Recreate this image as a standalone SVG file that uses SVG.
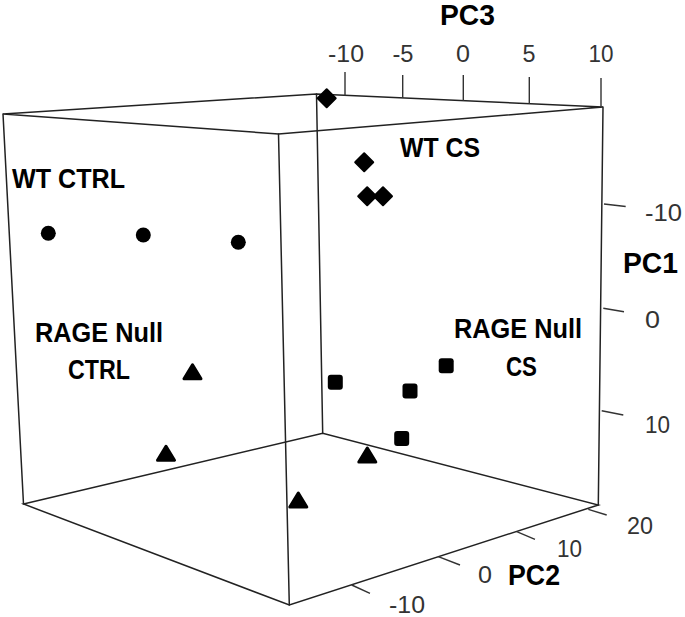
<svg xmlns="http://www.w3.org/2000/svg" xmlns:xlink="http://www.w3.org/1999/xlink" width="685" height="617" viewBox="0 0 685 617">
<style>
.edge{stroke:#222;stroke-width:1.5;fill:none;stroke-linecap:round}
.tick{stroke:#333;stroke-width:1.4;fill:none}
.lbl{font-family:"Liberation Sans",Arial,sans-serif;font-weight:bold;font-size:27px;fill:#000}
.axis{font-family:"Liberation Sans",Arial,sans-serif;font-weight:bold;font-size:29px;fill:#000}
.num{font-family:"Liberation Sans",Arial,sans-serif;font-size:24px;fill:#333}
.pt{fill:#000;stroke:#000;stroke-linejoin:round}
</style>
<defs>
<circle id="circ" r="7.5" fill="#000"/>
<polygon id="dia" class="pt" stroke-width="2" points="0,-9 9,0 0,9 -9,0"/>
<rect id="sq" x="-7.5" y="-7.5" width="15" height="15" rx="3" fill="#000"/>
<polygon id="tri" class="pt" stroke-width="3" points="0,-7 8.5,7 -8.5,7"/>
</defs>
<rect width="685" height="617" fill="#fff"/>
<g id="connectors">
<path class="edge" d="M3,114 L316.5,94 L603,107 L278.5,134 Z"/>
<path class="edge" d="M23.5,504 L322.7,433.3 L598.3,505 L289.3,605 Z"/>
<path class="edge" d="M3,114 L23.5,504 M316.5,94 L322.7,433.3 M603,107 L598.3,505 M278.5,134 L289.3,605"/>
<path class="tick" d="M345,72 L345,95.5 M402.7,75 L402.7,98 M463.3,75 L463.3,100.7 M529.3,77 L529.3,103.7 M601,78 L601,107"/>
<path class="tick" d="M604,204 L625.7,206.5 M603.3,308.3 L624,311.7 M601.7,410.7 L623.3,415"/>
<path class="tick" d="M351.7,585 L370,593.3 M438.3,556.7 L460,565 M516.7,531.7 L535,539.3 M588.3,509.3 L606.7,515"/>
</g>
<g id="axis-pc3">
<text class="axis" x="440" y="25" textLength="55" lengthAdjust="spacingAndGlyphs">PC3</text>
<text class="num" x="346" y="62" text-anchor="middle" textLength="36" lengthAdjust="spacingAndGlyphs">-10</text>
<text class="num" x="403" y="62" text-anchor="middle" textLength="21" lengthAdjust="spacingAndGlyphs">-5</text>
<text class="num" x="463" y="62" text-anchor="middle" textLength="14" lengthAdjust="spacingAndGlyphs">0</text>
<text class="num" x="529" y="62" text-anchor="middle" textLength="13" lengthAdjust="spacingAndGlyphs">5</text>
<text class="num" x="601" y="62" text-anchor="middle" textLength="25" lengthAdjust="spacingAndGlyphs">10</text>
</g>
<g id="axis-pc1">
<text class="axis" x="623" y="273" textLength="55" lengthAdjust="spacingAndGlyphs">PC1</text>
<text class="num" x="645" y="221" textLength="37" lengthAdjust="spacingAndGlyphs">-10</text>
<text class="num" x="645" y="328" textLength="15" lengthAdjust="spacingAndGlyphs">0</text>
<text class="num" x="645" y="433" textLength="25" lengthAdjust="spacingAndGlyphs">10</text>
</g>
<g id="axis-pc2">
<text class="axis" x="508" y="585" textLength="52" lengthAdjust="spacingAndGlyphs">PC2</text>
<text class="num" x="389" y="613" textLength="36" lengthAdjust="spacingAndGlyphs">-10</text>
<text class="num" x="478" y="583" textLength="14" lengthAdjust="spacingAndGlyphs">0</text>
<text class="num" x="557" y="557" textLength="25" lengthAdjust="spacingAndGlyphs">10</text>
<text class="num" x="627" y="534" textLength="26" lengthAdjust="spacingAndGlyphs">20</text>
</g>
<g id="wt-ctrl">
<text class="lbl" x="12" y="188" textLength="113" lengthAdjust="spacingAndGlyphs">WT CTRL</text>
<use href="#circ" x="48.3" y="233.3"/>
<use href="#circ" x="143.3" y="235"/>
<use href="#circ" x="238.3" y="242.3"/>
</g>
<g id="wt-cs">
<text class="lbl" x="400" y="157" textLength="80" lengthAdjust="spacingAndGlyphs">WT CS</text>
<use href="#dia" x="326.7" y="98.3"/>
<use href="#dia" x="364.2" y="162.2"/>
<use href="#dia" x="367.2" y="196.3"/>
<use href="#dia" x="383" y="196.3"/>
</g>
<g id="rage-null-ctrl">
<text class="lbl" x="35" y="342" textLength="128" lengthAdjust="spacingAndGlyphs">RAGE Null</text>
<text class="lbl" x="68" y="379" textLength="62" lengthAdjust="spacingAndGlyphs">CTRL</text>
<use href="#tri" x="192.5" y="371.8"/>
<use href="#tri" x="166" y="453.3"/>
<use href="#tri" x="367.3" y="455"/>
<use href="#tri" x="298.3" y="500"/>
</g>
<g id="rage-null-cs">
<text class="lbl" x="454" y="338" textLength="128" lengthAdjust="spacingAndGlyphs">RAGE Null</text>
<text class="lbl" x="506" y="376" textLength="31" lengthAdjust="spacingAndGlyphs">CS</text>
<use href="#sq" x="335.3" y="382.3"/>
<use href="#sq" x="410" y="391"/>
<use href="#sq" x="446.2" y="365.8"/>
<use href="#sq" x="401.7" y="438.5"/>
</g>
</svg>
